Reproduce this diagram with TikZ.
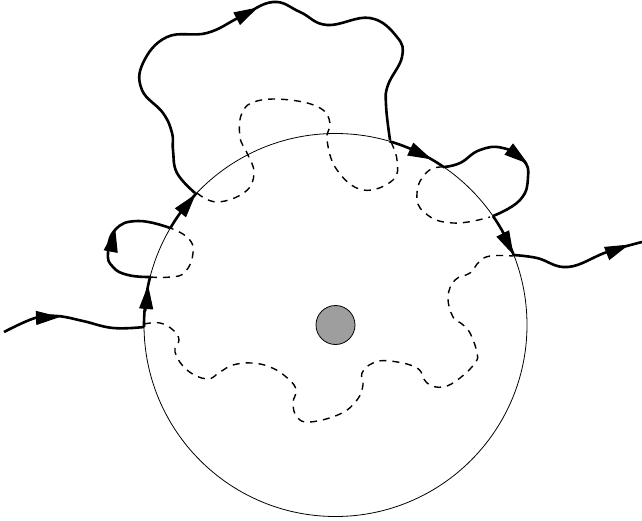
\documentclass[tikz,border=0pt]{standalone}
\usetikzlibrary{arrows.meta}
\tikzset{
  thin line/.style={line width=0.8pt,black},
  strong/.style={line width=2.6pt,black,line join=round},
  dash line/.style={line width=1.4pt,black,dash pattern=on 7pt off 6pt},
  head/.style={line width=1pt,black,-{Triangle[length=24pt,width=14pt]},shorten >=-1pt},
  rim/.style={strong,domain=#1,samples=12,smooth},
}
\begin{document}
\begin{tikzpicture}[x=1pt,y=-1pt]
\useasboundingbox (0,0) rectangle (642,521);
\coordinate (c) at (335.5,325);
\draw[thin line] (c) circle[radius=191.5pt];
\draw[line width=0.8pt,fill=black!38] (c) circle[radius=19.5pt];
% outer thick parts
\draw[strong] plot[smooth,tension=0.7] coordinates {(4,332)(35,318)(57,316)(83,321)(113,328)(144,327)};
\draw[rim=179.4:194.5] plot ({335.5+191.5*cos(\x)},{325+191.5*sin(\x)});
\draw[strong] plot[smooth,tension=0.8] coordinates {(150,277)(128,275)(113,267)(108,253)(115,230)(138,221)(170,228)};
\draw[rim=210.4:223.6] plot ({335.5+191.5*cos(\x)},{325+191.5*sin(\x)});
\draw[strong] plot[smooth,tension=0.7] coordinates {(195,193)(177,173)(173,150)(172,133)(163,113)(142,90)(143,63)(167,37)(207,33)(240,17)(273,2)(300,12)(327,25)(370,18)(397,37)(402,57)(388,85)(386,105)(390,140)};
\draw[rim=286.4:304.2] plot ({335.5+191.5*cos(\x)},{325+191.5*sin(\x)});
\draw[strong] plot[smooth,tension=0.8] coordinates {(443,167)(460,163)(480,150)(503,148)(523,160)(528,177)(520,200)(493,216)};
\draw[rim=325.3:338.5] plot ({335.5+191.5*cos(\x)},{325+191.5*sin(\x)});
\draw[strong] plot[smooth,tension=0.7] coordinates {(513,255)(537,258)(568,267)(607,252)(642,242)};
% inner dashed parts
\draw[dash line] plot[smooth,tension=0.7] coordinates {(144,324)(160,323)(173,330)(179,340)(175,352)(187,370)(207,379)(220,372)(233,365)(252,363)(270,367)(285,376)(296,389)(293,403)(297,417)(310,422)(340,414)(357,400)(363,385)(362,373)(373,363)(390,361)(417,368)(427,383)(443,387)(460,378)(475,363)(477,353)(470,333)(462,324)(453,317)(448,297)(455,280)(470,273)(479,262)(490,256)(513,256)};
\draw[dash line] plot[smooth,tension=0.8] coordinates {(150,277)(170,277)(185,272)(193,253)(188,238)(170,228)};
\draw[dash line] plot[smooth,tension=0.7] coordinates {(197,193)(217,202)(245,192)(254,173)(247,153)(240,137)(242,113)(257,101)(290,100)(320,108)(330,123)(327,140)(337,170)(363,190)(393,180)(397,160)(390,140)};
\draw[dash line] plot[smooth,tension=0.8] coordinates {(443,167)(427,172)(417,193)(425,213)(453,223)(490,217)};
% arrowheads
\draw[head] (35,318) -- (59,317);
\draw[head] (146,311) -- (148,286);
\draw[head] (111,250) -- (115,229);
\draw[head] (177,217) -- (195,195);
\draw[head] (238,18) -- (257,8);
\draw[head] (408,148) -- (431,159);
\draw[head] (510,150) -- (527,163);
\draw[head] (502,232) -- (513,254);
\draw[head] (608,253) -- (628,245);
\end{tikzpicture}
\end{document}
